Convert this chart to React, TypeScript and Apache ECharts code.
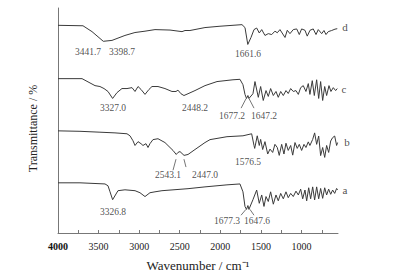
import React, { useEffect, useRef } from "react";
import * as echarts from "echarts";

// [wavenumber (cm-1), transmittance (%)]
const traceA: [number, number][] = [
  [4000, 22.3], [3729, 22.3], [3421, 21.8], [3384, 21.0], [3359, 18.3], [3326.8, 14.8], [3261, 18.8],
  [3175, 19.2], [3051, 18.8], [2990, 17.9], [2928, 16.2], [2867, 17.9], [2805, 18.3], [2719, 18.8],
  [2398, 19.7], [2189, 20.5], [1918, 21.4], [1758, 21.8], [1721, 18.3], [1696, 11.8], [1677.3, 10.5],
  [1660, 12.2], [1647.6, 10.5], [1598, 14.8], [1552, 19.1], [1520, 13.2], [1490, 16.9], [1462, 11.8],
  [1437, 16.2], [1409, 14.0], [1380, 18.3], [1347, 12.8], [1314, 16.9], [1286, 14.3], [1256, 17.6],
  [1224, 15.2], [1191, 18.3], [1163, 15.7], [1133, 17.6], [1101, 16.2], [1068, 18.6], [1039, 16.9],
  [1010, 19.5], [985, 15.2], [957, 19.1], [936, 14.3], [911, 20.1], [887, 15.2], [862, 20.5],
  [838, 14.7], [813, 20.5], [788, 15.2], [764, 19.8], [739, 15.4], [714, 20.1], [690, 16.9],
  [665, 19.5], [640, 17.2], [616, 19.1], [591, 17.6], [567, 19.8], [555, 19.1],
];

const traceB: [number, number][] = [
  [4000, 45.4], [3729, 45.2], [3483, 44.8], [3298, 44.5], [3150, 44.1], [3113, 43.2], [3076, 41.0],
  [3051, 38.9], [3014, 40.6], [2977, 39.7], [2953, 38.9], [2916, 39.7], [2891, 38.0], [2867, 39.7],
  [2830, 41.5], [2768, 41.9], [2682, 40.2], [2620, 38.0], [2583, 36.7], [2543.1, 34.9], [2522, 35.8],
  [2497, 36.2], [2447.0, 34.5], [2398, 34.9], [2312, 37.1], [2189, 40.2], [2127, 41.5], [1918, 42.8],
  [1721, 43.2], [1614, 44.1], [1585, 38.9], [1576.5, 37.6], [1545, 43.2], [1520, 38.9], [1503, 41.6],
  [1478, 37.1], [1450, 40.6], [1416, 35.1], [1388, 37.3], [1355, 35.8], [1327, 39.4], [1298, 38.0],
  [1274, 34.5], [1244, 39.4], [1216, 35.1], [1191, 39.9], [1163, 36.7], [1133, 38.9], [1108, 34.6],
  [1080, 40.2], [1052, 37.6], [1027, 39.4], [998, 36.7], [969, 39.4], [945, 38.0], [916, 40.5],
  [896, 38.9], [862, 41.6], [838, 44.5], [813, 39.4], [788, 43.1], [764, 34.4], [739, 38.0],
  [714, 33.6], [690, 38.9], [665, 35.8], [640, 40.9], [616, 42.4], [591, 43.1], [567, 38.9], [555, 40.2],
];

const traceC: [number, number][] = [
  [4000, 68.6], [3704, 68.6], [3544, 65.5], [3483, 65.1], [3433, 64.2], [3384, 62.9], [3327.0, 59.8],
  [3273, 62.4], [3212, 64.2], [3150, 64.2], [3088, 64.6], [3051, 62.9], [3014, 65.1], [2977, 63.8],
  [2928, 61.6], [2879, 63.8], [2842, 65.1], [2768, 65.1], [2682, 64.2], [2596, 62.9], [2546, 62.9],
  [2522, 63.5], [2485, 61.9], [2448.2, 61.1], [2398, 61.9], [2312, 63.3], [2189, 65.5], [2041, 67.3],
  [1844, 68.1], [1758, 68.3], [1721, 65.9], [1696, 61.6], [1677.2, 59.8], [1660, 61.1], [1647.2, 59.8],
  [1598, 61.9], [1573, 67.3], [1532, 60.3], [1503, 65.1], [1471, 58.9], [1437, 63.3], [1409, 60.7],
  [1380, 64.2], [1347, 61.1], [1314, 62.9], [1286, 60.3], [1256, 62.9], [1224, 61.1], [1191, 63.3],
  [1163, 62.0], [1133, 64.2], [1101, 62.9], [1068, 63.3], [1039, 61.6], [1010, 64.6], [978, 65.5],
  [945, 62.9], [916, 66.4], [896, 61.6], [867, 67.7], [842, 61.1], [813, 68.1], [788, 59.8],
  [764, 67.3], [739, 58.9], [714, 65.1], [690, 61.1], [661, 65.5], [637, 62.9], [608, 64.6],
  [579, 63.3], [559, 64.2],
];

const traceD: [number, number][] = [
  [4000, 92.3], [3692, 92.1], [3581, 89.5], [3441.7, 85.2], [3335, 85.6], [3175, 87.8], [3052, 89.1],
  [2928, 89.7], [2805, 90.4], [2620, 90.2], [2472, 89.5], [2435, 90.0], [2374, 90.0], [2189, 91.3],
  [2004, 91.9], [1733, 92.6], [1696, 91.3], [1661.6, 83.8], [1622, 86.9], [1585, 90.4], [1552, 91.1],
  [1520, 88.9], [1490, 90.4], [1450, 87.8], [1409, 88.6], [1367, 88.2], [1327, 89.7], [1298, 89.0],
  [1265, 90.4], [1203, 86.9], [1175, 90.1], [1142, 88.6], [1101, 90.4], [1059, 90.7], [1027, 88.2],
  [998, 90.7], [957, 90.1], [929, 87.5], [895, 90.1], [855, 90.7], [821, 88.2], [793, 90.4],
  [751, 88.6], [723, 90.0], [698, 88.2], [670, 89.5], [628, 90.0], [587, 90.6], [559, 90.8],
];

// peak annotations: [text, wavenumber, transmittance]
const peakLabels: [string, number, number][] = [
  ["3441.7", 3630, 80.4], ["3398.7", 3212, 80.4], ["1661.6", 1659, 79.5],
  ["3327.0", 3322, 55.5], ["2448.2", 2312, 55.5], ["1677.2", 1856, 52.0], ["1647.2", 1462, 52.0],
  ["2543.1", 2645, 25.8], ["2447.0", 2189, 25.8], ["1576.5", 1659, 31.4],
  ["3326.8", 3322, 9.2], ["1677.3", 1918, 5.2], ["1647.6", 1548, 5.2],
];

// trace letters: [text, wavenumber, transmittance]
const traceNames: [string, number, number][] = [
  ["d", 464, 91.7], ["c", 476, 63.8], ["b", 440, 40.6], ["a", 464, 19.2],
];

// leader lines: [[w1, T1], [w2, T2]]
const leaders: [[number, number], [number, number]][] = [
  [[1744, 55.5], [1682, 59.8]], [[1585, 55.5], [1647, 59.8]],
  [[2583, 27.9], [2546, 32.8]], [[2423, 29.3], [2448, 32.8]],
  [[1745, 7.9], [1684, 10.5]], [[1585, 7.9], [1635, 10.5]],
];

const xLabelValues = [4000, 3500, 3000, 2500, 2000, 1500, 1000];
const xTickValues = [4000, 3750, 3500, 3250, 3000, 2750, 2500, 2250, 2000, 1750, 1500, 1250, 1000, 750];

const FONT = "'Liberation Serif', 'Times New Roman', serif";
const LINE = "#3a3a3a";

export default function App() {
  const ref = useRef<HTMLDivElement>(null);
  useEffect(() => {
    if (!ref.current) return;
    const chart = echarts.init(ref.current, undefined, { renderer: "svg" });
    const traceSeries = [traceA, traceB, traceC, traceD].map((d) => ({
      type: "line",
      data: d,
      showSymbol: false,
      symbol: "none",
      lineStyle: { color: LINE, width: 1 },
      silent: true,
    }));
    const leaderSeries = leaders.map((seg) => ({
      type: "line",
      data: seg,
      showSymbol: false,
      symbol: "none",
      lineStyle: { color: LINE, width: 0.7 },
      silent: true,
    }));
    chart.setOption({
      animation: false,
      grid: { left: 58, right: 56, top: 8, bottom: 40 },
      xAxis: {
        type: "value",
        inverse: true,
        min: 550,
        max: 4000,
        name: "Wavenumber / cm\u207B\u00B9",
        nameLocation: "middle",
        nameGap: 26,
        nameTextStyle: { fontFamily: FONT, fontSize: 13, color: "#222" },
        axisLine: { show: true, lineStyle: { color: "#777", width: 1 } },
        axisTick: { show: true, inside: true, length: 3, customValues: xTickValues, lineStyle: { color: "#777" } },
        axisLabel: {
          customValues: xLabelValues,
          fontFamily: FONT,
          fontSize: 10,
          color: "#222",
          margin: 8,
          formatter: (v: number) => (v === 4000 ? "{b|4000}" : "{n|" + v + "}"),
          rich: {
            b: { fontFamily: FONT, fontSize: 10, fontWeight: "bold", color: "#111" },
            n: { fontFamily: FONT, fontSize: 10, color: "#222" },
          },
        },
        splitLine: { show: false },
      },
      yAxis: {
        type: "value",
        min: 0,
        max: 100,
        name: "Transmittance / %",
        nameLocation: "middle",
        nameGap: 19,
        nameTextStyle: { fontFamily: FONT, fontSize: 12, color: "#222", padding: [0, 16, 0, 0] },
        axisLine: { show: true, lineStyle: { color: "#777", width: 1 } },
        axisTick: { show: false },
        axisLabel: { show: false },
        splitLine: { show: false },
      },
      series: [
        ...traceSeries,
        ...leaderSeries,
        {
          type: "scatter",
          symbolSize: 0,
          clip: false,
          silent: true,
          data: peakLabels.map(([t, w, v]) => ({ value: [w, v], name: t })),
          label: {
            show: true,
            position: "inside",
            formatter: (p: any) => p.name,
            fontFamily: FONT,
            fontSize: 9.5,
            color: "#222",
          },
        },
        {
          type: "scatter",
          symbolSize: 0,
          clip: false,
          silent: true,
          data: traceNames.map(([t, w, v]) => ({ value: [w, v], name: t })),
          label: {
            show: true,
            position: "inside",
            formatter: (p: any) => p.name,
            fontFamily: FONT,
            fontSize: 11,
            color: "#222",
          },
        },
      ],
    });
    return () => chart.dispose();
  }, []);
  return (
    <div
      ref={ref}
      style={{ position: "fixed", left: 0, top: 0, width: 394, height: 277, background: "#fff" }}
    />
  );
}
